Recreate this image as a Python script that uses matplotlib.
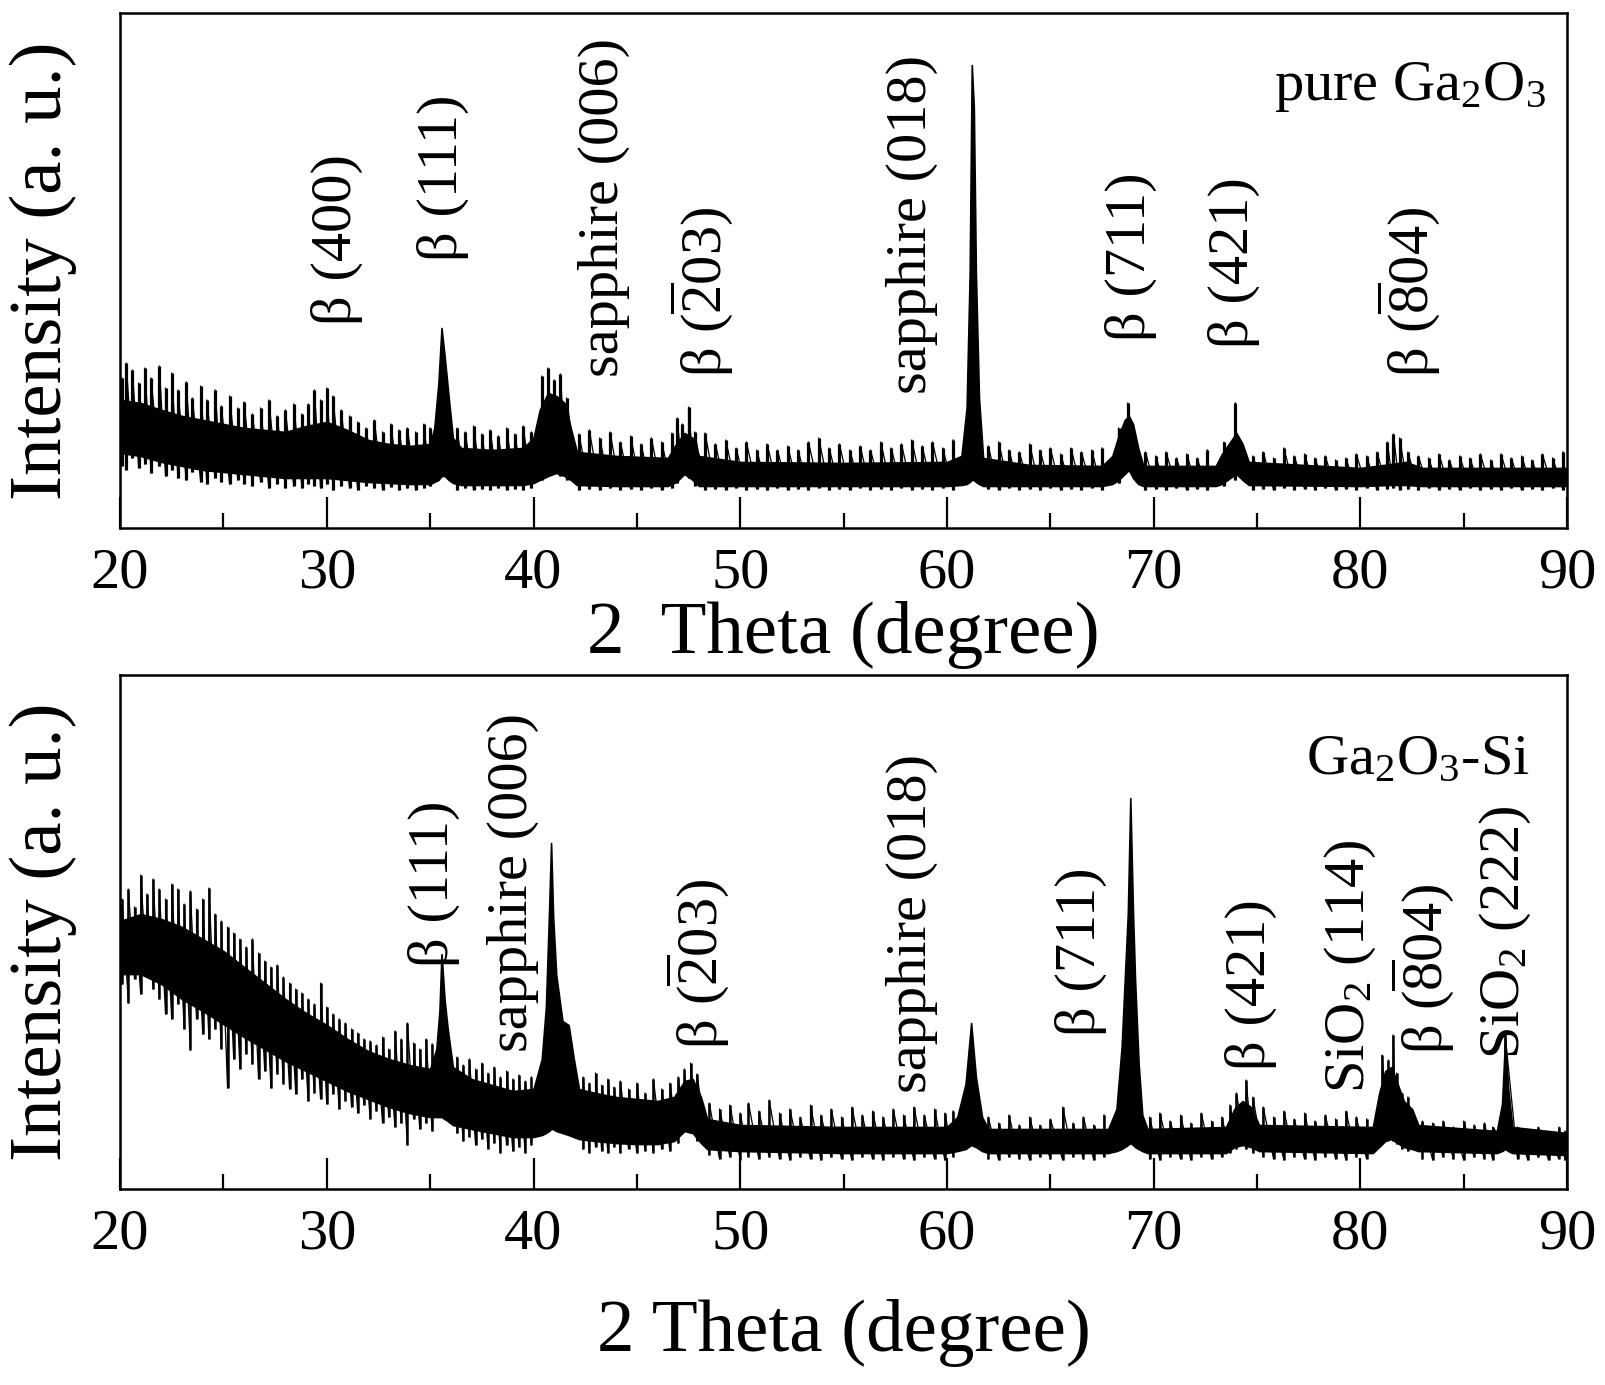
import matplotlib
matplotlib.use('Agg')
import matplotlib.pyplot as plt
from matplotlib.ticker import MultipleLocator

plt.rcParams['font.family'] = ['Liberation Serif', 'DejaVu Serif']
plt.rcParams['mathtext.fontset'] = 'custom'
plt.rcParams['mathtext.rm'] = 'Liberation Serif'
plt.rcParams['mathtext.it'] = 'Liberation Serif:italic'
plt.rcParams['mathtext.bf'] = 'Liberation Serif:bold'

# Intensities in a.u..
# core = dense part of the noisy trace and the peaks (2theta, top, bottom)
top_core = [(20.0, 128, 75), (21.0, 125, 72), (22.0, 118, 66), (23.0, 112, 62), (24.0, 108, 58),
            (25.0, 104, 56), (26.0, 100, 54), (27.0, 98, 52), (28.0, 96, 50), (29.0, 102, 50),
            (30.0, 106, 50), (31.0, 98, 48), (32.0, 88, 46), (33.0, 84, 45), (34.0, 82, 44),
            (35.0, 84, 44), (35.2, 100, 46), (35.4, 145, 48), (35.55, 200, 52), (35.7, 172, 52),
            (35.9, 130, 48), (36.1, 90, 45), (36.5, 80, 43), (38.0, 78, 43), (39.5, 80, 43),
            (40.0, 90, 45), (40.3, 118, 48), (40.7, 135, 52), (41.1, 132, 55), (41.5, 125, 52),
            (41.8, 100, 48), (42.1, 76, 43), (44.0, 72, 42), (46.5, 70, 42), (46.9, 84, 46),
            (47.3, 95, 54), (47.7, 90, 48), (48.0, 72, 42), (50.0, 66, 42), (55.0, 65, 42),
            (60.0, 66, 42), (60.7, 72, 43), (60.95, 120, 44), (61.1, 255, 46), (61.2, 463, 48),
            (61.3, 421, 48), (61.4, 255, 46), (61.55, 130, 44), (61.75, 70, 42), (64.0, 63, 42),
            (67.5, 62, 42), (68.0, 72, 44), (68.3, 92, 48), (68.6, 108, 54), (68.8, 112, 58),
            (69.0, 104, 50), (69.25, 80, 44), (69.5, 62, 42), (73.0, 62, 42), (73.3, 74, 44),
            (73.7, 86, 50), (74.0, 95, 54), (74.3, 84, 48), (74.6, 66, 43), (80.0, 60, 42),
            (81.5, 64, 43), (82.2, 66, 43), (83.0, 60, 42), (90.0, 60, 42)]

# single noise strokes of the trace (2theta, bottom, top)
top_strokes = [(20.1, 62, 150), (20.3, 58, 165), (20.6, 70, 158), (20.9, 60, 145), (21.2, 64, 160),
               (21.5, 55, 150), (21.9, 62, 162), (22.2, 52, 140), (22.5, 58, 155), (22.8, 50, 138),
               (23.2, 48, 146), (23.5, 56, 130), (23.9, 46, 142), (24.2, 44, 128), (24.6, 50, 138),
               (24.9, 46, 122), (25.3, 44, 132), (25.7, 48, 120), (26.0, 44, 126), (26.4, 42, 114),
               (26.8, 46, 120), (27.2, 40, 128), (27.6, 44, 112), (28.0, 40, 118), (28.4, 42, 124),
               (28.8, 40, 114), (29.1, 44, 124), (29.4, 42, 138), (29.7, 40, 128), (30.0, 44, 140),
               (30.3, 38, 132), (30.7, 42, 118), (31.1, 40, 112), (31.5, 38, 106), (31.9, 42, 100),
               (32.3, 40, 108), (32.7, 38, 96), (33.1, 41, 104), (33.5, 38, 98), (33.9, 40, 100),
               (34.3, 38, 96), (34.7, 40, 104), (35.0, 42, 100),
               (36.3, 38, 100), (36.7, 40, 96), (37.1, 38, 102), (37.5, 39, 94), (37.9, 38, 98),
               (38.3, 40, 92), (38.7, 38, 100), (39.1, 39, 94), (39.5, 38, 102), (39.9, 40, 96),
               (40.4, 48, 152), (40.7, 52, 160), (41.0, 55, 148), (41.3, 52, 154), (41.6, 48, 130),
               (42.2, 38, 94), (42.7, 39, 98), (43.2, 38, 90), (43.7, 40, 96), (44.2, 38, 86),
               (44.7, 39, 92), (45.2, 38, 84), (45.7, 40, 90), (46.2, 38, 86), (46.7, 40, 95),
               (46.95, 45, 110), (47.2, 55, 104), (47.5, 50, 121), (47.8, 42, 96),
               (48.3, 38, 95), (48.8, 39, 84), (49.3, 38, 88), (49.8, 40, 80), (50.3, 38, 86),
               (50.8, 39, 78), (51.3, 38, 84), (51.8, 40, 78), (52.3, 38, 82), (52.8, 39, 78),
               (53.3, 38, 86), (53.8, 40, 90), (54.3, 38, 80), (54.8, 39, 84), (55.3, 38, 78),
               (55.8, 40, 82), (56.3, 38, 78), (56.8, 39, 86), (57.3, 38, 80), (57.8, 40, 84),
               (58.3, 38, 88), (58.8, 39, 82), (59.3, 38, 86), (59.8, 40, 80), (60.3, 38, 88),
               (62.0, 39, 82), (62.5, 38, 86), (63.0, 40, 78), (63.5, 38, 76), (64.0, 39, 84),
               (64.5, 38, 78), (65.0, 40, 80), (65.5, 38, 74), (66.0, 39, 80), (66.5, 38, 76),
               (67.0, 40, 78), (67.5, 38, 80), (68.3, 45, 100), (68.75, 60, 125),
               (69.6, 38, 76), (70.1, 39, 72), (70.6, 38, 76), (71.1, 40, 70), (71.6, 38, 74),
               (72.1, 39, 70), (72.6, 38, 78), (73.4, 42, 86), (73.95, 48, 125),
               (74.8, 38, 72), (75.3, 39, 76), (75.8, 38, 70), (76.3, 40, 80), (76.8, 38, 72),
               (77.3, 39, 74), (77.8, 38, 70), (78.3, 40, 72), (78.8, 38, 68), (79.3, 39, 70),
               (79.8, 38, 74), (80.3, 40, 72), (80.8, 38, 76), (81.3, 39, 86), (81.6, 40, 94),
               (81.9, 38, 90), (82.3, 39, 76), (82.8, 38, 72), (83.3, 40, 70), (83.8, 38, 74),
               (84.3, 39, 68), (84.8, 38, 72), (85.3, 40, 70), (85.8, 38, 74), (86.3, 39, 68),
               (86.8, 38, 74), (87.3, 40, 70), (87.8, 38, 72), (88.3, 39, 68), (88.8, 38, 74),
               (89.3, 40, 70), (89.8, 38, 76)]

bot_core = [(20.0, 268, 215), (21.0, 275, 215), (22.0, 270, 205), (23.0, 262, 190), (24.0, 250, 178),
            (25.0, 238, 165), (26.0, 222, 152), (27.0, 206, 140), (28.0, 190, 128), (29.0, 176, 118),
            (30.0, 164, 108), (31.0, 150, 98), (32.0, 138, 90), (33.0, 130, 82), (34.0, 124, 76),
            (35.0, 120, 72), (35.3, 140, 72), (35.45, 178, 72), (35.55, 235, 72), (35.7, 189, 70),
            (35.85, 160, 68), (36.1, 122, 64), (37.0, 110, 60), (38.0, 104, 56), (39.0, 98, 52),
            (40.0, 100, 52), (40.4, 130, 54), (40.6, 182, 56), (40.75, 276, 58), (40.85, 346, 60),
            (40.95, 272, 60), (41.1, 214, 58), (41.4, 168, 56), (41.7, 164, 54), (41.95, 130, 52),
            (42.2, 100, 50), (43.0, 96, 48), (44.0, 92, 46), (45.0, 90, 45), (46.0, 88, 45),
            (46.8, 92, 48), (47.3, 108, 58), (47.7, 110, 56), (48.1, 92, 46), (48.4, 70, 40),
            (50.0, 64, 38), (55.0, 62, 36), (60.0, 62, 36), (60.5, 72, 38), (60.9, 105, 40),
            (61.17, 166, 44), (61.4, 112, 42), (61.7, 72, 38), (62.0, 60, 36), (67.8, 60, 36),
            (68.2, 80, 38), (68.45, 142, 40), (68.6, 209, 42), (68.75, 276, 44), (68.87, 391, 46),
            (69.0, 276, 44), (69.1, 209, 42), (69.27, 126, 40), (69.45, 74, 38), (69.7, 60, 36),
            (73.5, 62, 36), (73.9, 80, 42), (74.3, 88, 44), (74.7, 82, 42), (75.1, 64, 38),
            (80.6, 62, 36), (80.9, 95, 42), (81.2, 118, 48), (81.5, 122, 50), (81.8, 105, 46),
            (82.1, 88, 42), (82.5, 80, 40), (82.8, 64, 38), (86.6, 58, 36), (86.85, 85, 38),
            (87.0, 150, 40), (87.15, 100, 38), (87.35, 62, 36), (90.0, 56, 34)]

bot_strokes = [(20.1, 205, 290), (20.4, 186, 300), (20.7, 210, 282), (21.0, 195, 314), (21.3, 215, 295),
               (21.6, 200, 310), (21.9, 190, 300), (22.2, 175, 290), (22.5, 170, 305), (22.8, 185, 300),
               (23.1, 160, 285), (23.4, 139, 298), (23.7, 170, 280), (24.0, 155, 290), (24.3, 150, 301),
               (24.6, 160, 275), (24.9, 140, 268), (25.2, 101, 262), (25.5, 130, 256), (25.8, 120, 250),
               (26.1, 135, 242), (26.4, 125, 250), (26.7, 110, 236), (27.0, 118, 228), (27.3, 101, 222),
               (27.6, 115, 224), (27.9, 105, 212), (28.2, 100, 206), (28.5, 95, 200), (28.8, 110, 196),
               (29.1, 88, 190), (29.4, 96, 185), (29.7, 90, 206), (30.0, 85, 182), (30.3, 95, 175),
               (30.6, 80, 170), (30.9, 88, 166), (31.2, 82, 160), (31.5, 76, 156), (31.8, 84, 150),
               (32.1, 70, 148), (32.4, 78, 144), (32.7, 66, 152), (33.0, 72, 140), (33.3, 62, 158),
               (33.6, 66, 150), (33.9, 44, 166), (34.2, 70, 146), (34.5, 60, 140), (34.8, 66, 150),
               (35.1, 58, 145),
               (36.3, 56, 132), (36.6, 48, 124), (36.9, 52, 130), (37.2, 44, 120), (37.5, 50, 126),
               (37.8, 40, 116), (38.1, 46, 122), (38.4, 36, 112), (38.7, 44, 118), (39.0, 38, 110),
               (39.3, 42, 114), (39.6, 36, 108), (39.9, 44, 112),
               (42.4, 40, 112), (42.7, 36, 106), (43.0, 42, 116), (43.3, 38, 104), (43.6, 36, 110),
               (43.9, 42, 102), (44.2, 36, 108), (44.6, 40, 100), (45.0, 36, 106), (45.4, 38, 96),
               (45.8, 36, 110), (46.2, 40, 100), (46.6, 38, 106), (47.0, 46, 112), (47.3, 58, 120),
               (47.6, 56, 126), (47.9, 48, 115),
               (48.5, 34, 86), (49.0, 30, 80), (49.5, 32, 84), (50.0, 29, 76), (50.4, 32, 86),
               (50.9, 30, 78), (51.4, 32, 89), (51.9, 30, 76), (52.4, 29, 80), (52.9, 32, 72),
               (53.4, 30, 84), (53.9, 29, 74), (54.4, 32, 80), (54.9, 30, 72), (55.4, 29, 82),
               (55.9, 32, 74), (56.4, 30, 78), (56.9, 29, 72), (57.4, 32, 80), (57.9, 30, 74),
               (58.4, 29, 82), (58.9, 32, 74), (59.4, 30, 80), (59.9, 29, 76), (60.3, 32, 78),
               (62.0, 30, 72), (62.5, 29, 66), (63.0, 32, 74), (63.5, 30, 64), (64.0, 29, 72),
               (64.5, 32, 64), (65.0, 30, 70), (65.6, 29, 82), (66.1, 32, 66), (66.6, 30, 72),
               (67.1, 29, 64), (67.6, 32, 74),
               (69.8, 30, 72), (70.3, 29, 76), (70.8, 32, 68), (71.3, 30, 74), (71.8, 29, 66),
               (72.3, 32, 76), (72.8, 30, 68), (73.3, 32, 72), (73.7, 36, 84), (74.0, 40, 96),
               (74.47, 40, 109), (74.8, 36, 92),
               (75.3, 32, 82), (75.8, 30, 72), (76.3, 29, 78), (76.8, 32, 70), (77.3, 30, 76),
               (77.8, 29, 68), (78.3, 32, 74), (78.8, 30, 70), (79.3, 29, 78), (79.8, 32, 72),
               (80.3, 30, 70),
               (81.05, 45, 134), (81.35, 50, 129), (81.58, 48, 154), (81.75, 45, 116), (82.0, 40, 96),
               (82.3, 38, 92),
               (83.0, 30, 68), (83.5, 29, 66), (84.0, 32, 68), (84.5, 30, 62), (85.0, 29, 68),
               (85.5, 32, 64), (86.0, 30, 66), (86.4, 29, 62), (87.0, 45, 155),
               (87.6, 30, 62), (88.1, 29, 60), (88.6, 32, 62), (89.1, 29, 56), (89.6, 30, 62),
               (89.9, 29, 58)]

# peak labels: (2theta, bottom of the text in a.u., text)
top_labels = [(30.5, 203, 'β (400)'),
              (35.6, 267, 'β (111)'),
              (43.4, 151, 'sapphire (006)'),
              (48.1, 151, r'β ($\overline{2}$03)'),
              (58.3, 134, 'sapphire (018)'),
              (68.9, 187, 'β (711)'),
              (73.9, 180, 'β (421)'),
              (82.3, 151, r'β ($\overline{8}$04)')]
bot_labels = [(35.2, 222, 'β (111)'),
              (39.0, 137, 'sapphire (006)'),
              (47.9, 140, r'β ($\overline{2}$03)'),
              (58.3, 96, 'sapphire (018)'),
              (66.5, 153, 'β (711)'),
              (74.7, 119, 'β (421)'),
              (79.5, 96, r'SiO$_2$ (114)'),
              (83.0, 135, r'β ($\overline{8}$04)'),
              (87.0, 130, r'SiO$_2$ (222)')]

fig = plt.figure(figsize=(16.05, 13.85), dpi=100)
ax1 = fig.add_axes([0.0748, 0.6188, 0.9016, 0.3718])
ax2 = fig.add_axes([0.0748, 0.1415, 0.9016, 0.3711])

panels = [(ax1, top_core, top_strokes, 2.3, top_labels,
           'pure Ga$_2$O$_3$', 0.9855, 0.856, '2  Theta (degree)', -0.208, 515),
          (ax2, bot_core, bot_strokes, 1.8, bot_labels,
           'Ga$_2$O$_3$-Si', 0.9744, 0.835, '2 Theta (degree)', -0.28, 514)]

for ax, core, strokes, lw, labels, name, nx, ny, xlab, xly, ytop in panels:
    cx = [c[0] for c in core]
    chi = [c[1] for c in core]
    clo = [c[2] for c in core]
    ax.fill_between(cx, clo, chi, facecolor='k', edgecolor='k', linewidth=1.2)
    sx = [s[0] for s in strokes]
    slo = [s[1] for s in strokes]
    shi = [s[2] for s in strokes]
    ax.vlines(sx, slo, shi, colors='k', linewidth=lw)
    # thin trace linking each stroke top to the foot of the next one,
    # broken where a peak sits between two strokes
    zx, zy = [], []
    prev = None
    for th, lo, hi in strokes:
        if prev is not None and th - prev > 0.7:
            zx.append(float('nan'))
            zy.append(float('nan'))
        zx += [th, th]
        zy += [lo, hi]
        prev = th
    ax.plot(zx, zy, color='k', linewidth=0.9)

    for th, yb, txt in labels:
        ax.text(th, yb, txt, rotation=90, ha='center', va='bottom', fontsize=42)
    ax.text(nx, ny, name, transform=ax.transAxes, ha='right', va='center', fontsize=42)

    ax.set_xlim(20, 90)
    ax.set_ylim(0, ytop)
    ax.set_yticks([])
    ax.xaxis.set_major_locator(MultipleLocator(10))
    ax.xaxis.set_minor_locator(MultipleLocator(5))
    ax.tick_params(axis='x', which='major', direction='in', length=22, width=1.6,
                   labelsize=42, pad=14)
    ax.tick_params(axis='x', which='minor', direction='in', length=11, width=1.6)
    for sp in ax.spines.values():
        sp.set_linewidth(1.8)

    ax.set_xlabel(xlab, fontsize=54)
    ax.xaxis.set_label_coords(0.5, xly)
    ax.xaxis.label.set_va('center')
    ax.set_ylabel('Intensity (a. u.)', fontsize=54)
    ax.yaxis.set_label_coords(-0.053, 0.5)
    ax.yaxis.label.set_va('center')

fig.savefig('out.png', dpi=100)
